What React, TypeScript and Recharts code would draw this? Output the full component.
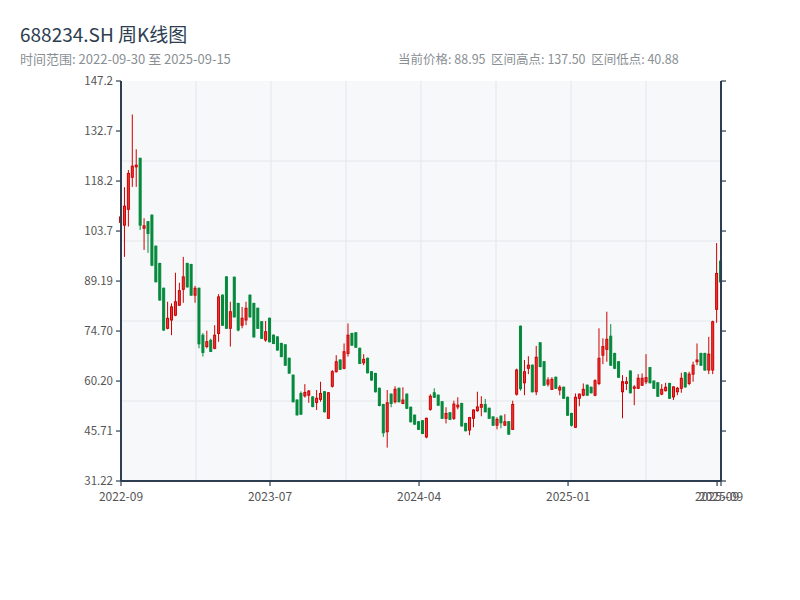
import { ComposedChart, Bar, XAxis, YAxis, CartesianGrid } from 'recharts'

// weekly candles (index 0 = week of 2022-09-30)
const OPEN = [
  106.2, 105.4, 110.0, 119.3, 122.3, 124.8, 104.5, 106.4, 108.3, 99.3,
  94.3, 87.1, 75.5, 77.9, 79.3, 82.2, 86.8, 94.3, 94.0, 85.1,
  87.1, 73.5, 70.2, 72.0, 69.7, 74.0, 85.1, 90.4, 75.5, 90.3,
  82.7, 76.4, 77.9, 85.1, 82.7, 81.3, 77.4, 72.1, 78.4, 73.5,
  73.0, 71.1, 70.7, 66.8, 61.9, 54.7, 56.6, 55.9, 56.1, 55.6,
  54.0, 54.9, 57.1, 49.4, 58.7, 62.9, 66.3, 63.9, 68.2, 74.0,
  74.2, 69.7, 65.5, 66.8, 62.9, 62.4, 58.1, 53.4, 45.5, 56.4,
  54.2, 58.1, 53.7, 56.4, 52.6, 50.3, 48.4, 48.7, 44.0, 52.0,
  56.8, 56.1, 54.2, 49.4, 51.0, 49.4, 52.7, 53.7, 47.9, 46.0,
  49.4, 51.6, 52.6, 53.4, 52.3, 49.8, 47.4, 50.0, 47.4, 48.4,
  46.2, 56.4, 76.1, 59.7, 63.9, 64.8, 57.1, 71.3, 65.8, 59.3,
  57.8, 61.3, 57.6, 58.4, 55.5, 50.8, 46.8, 55.2, 56.1, 59.0,
  58.4, 56.1, 59.5, 67.7, 69.4, 73.2, 68.2, 65.8, 57.1, 59.5,
  63.1, 58.1, 58.1, 59.0, 60.0, 64.1, 60.2, 59.7, 56.4, 57.4,
  59.5, 55.6, 57.1, 58.1, 62.6, 59.5, 62.2, 65.8, 68.2, 68.2,
  63.4, 63.4, 81.0, 95.0,
]
const HIGH = [
  108.3, 116.4, 121.4, 137.5, 127.4, 124.9, 107.4, 106.5, 108.5, 99.5,
  94.5, 87.3, 83.2, 82.7, 91.6, 88.7, 96.2, 94.5, 94.2, 87.8,
  87.3, 74.1, 74.8, 72.5, 76.4, 85.4, 85.3, 90.6, 83.2, 90.5,
  82.9, 81.7, 83.2, 85.3, 82.9, 81.5, 77.6, 77.6, 78.6, 73.7,
  73.2, 71.3, 70.9, 67.0, 62.1, 54.9, 57.2, 59.3, 57.6, 55.8,
  57.6, 60.0, 57.3, 57.0, 63.4, 67.7, 66.5, 71.1, 76.9, 74.2,
  74.4, 69.9, 68.0, 67.0, 63.1, 62.6, 58.3, 53.6, 57.6, 56.6,
  58.7, 58.3, 58.4, 56.6, 52.8, 50.5, 48.6, 48.9, 49.6, 56.4,
  58.1, 56.3, 54.4, 52.6, 51.2, 54.5, 55.5, 53.9, 48.1, 49.8,
  52.0, 57.1, 55.8, 55.0, 52.5, 50.0, 49.7, 50.3, 50.6, 48.6,
  54.5, 63.8, 76.3, 66.3, 67.4, 65.0, 70.4, 71.5, 66.0, 61.3,
  61.3, 61.5, 59.0, 58.6, 55.7, 51.0, 56.6, 56.6, 59.5, 59.2,
  58.6, 60.7, 75.5, 72.6, 80.3, 76.7, 68.4, 66.0, 61.9, 61.4,
  63.3, 59.0, 62.2, 62.4, 68.0, 64.3, 60.4, 59.9, 59.3, 59.7,
  59.7, 58.7, 58.5, 62.6, 62.8, 62.9, 65.8, 71.1, 68.4, 68.4,
  73.0, 77.7, 100.2, 95.3,
]
const LOW = [
  105.8, 96.2, 105.0, 116.5, 116.5, 104.0, 98.2, 97.4, 93.5, 88.8,
  83.5, 74.7, 75.2, 73.5, 79.0, 82.0, 82.9, 87.3, 85.0, 82.9,
  69.7, 67.3, 69.7, 68.6, 69.4, 71.6, 76.2, 75.3, 70.2, 78.6,
  74.6, 75.5, 76.4, 78.6, 72.8, 75.3, 72.4, 71.6, 71.4, 70.9,
  69.0, 67.1, 64.6, 62.3, 54.0, 50.2, 50.4, 55.4, 53.9, 52.6,
  51.8, 54.2, 51.1, 49.2, 58.3, 62.7, 63.4, 63.6, 67.3, 70.4,
  69.8, 65.1, 64.8, 62.4, 60.3, 56.9, 52.9, 44.0, 40.9, 52.6,
  53.7, 54.0, 53.5, 52.1, 48.2, 47.5, 46.0, 44.8, 43.6, 51.6,
  55.3, 53.0, 49.2, 47.9, 48.9, 48.9, 52.0, 47.0, 45.6, 44.5,
  46.8, 51.3, 50.0, 51.1, 49.2, 47.2, 46.2, 46.5, 47.2, 44.6,
  46.0, 56.0, 57.4, 56.1, 62.2, 56.9, 56.1, 64.2, 58.8, 58.6,
  57.6, 57.9, 56.1, 55.0, 50.1, 47.0, 46.6, 52.9, 55.8, 55.9,
  56.6, 55.8, 59.0, 65.1, 65.8, 64.6, 63.7, 61.1, 49.4, 57.6,
  56.6, 53.2, 57.9, 58.8, 59.3, 59.5, 57.9, 55.6, 56.1, 57.2,
  55.0, 54.7, 56.1, 56.8, 58.3, 59.0, 60.0, 64.8, 64.6, 63.2,
  62.2, 62.2, 77.1, 87.1,
]
const CLOSE = [
  107.8, 110.9, 120.4, 122.5, 122.8, 105.4, 105.2, 103.0, 93.8, 89.0,
  83.7, 75.0, 78.4, 81.7, 83.2, 86.4, 90.4, 87.5, 85.1, 87.1,
  71.0, 68.5, 71.6, 68.8, 73.5, 84.6, 76.4, 75.5, 80.3, 78.8,
  75.0, 78.4, 81.3, 78.8, 73.0, 75.5, 72.6, 74.5, 71.6, 71.1,
  69.2, 67.3, 64.8, 62.5, 54.2, 50.4, 50.6, 56.9, 57.3, 52.8,
  55.2, 56.6, 51.3, 56.8, 62.9, 65.8, 63.6, 68.7, 73.5, 70.6,
  70.0, 65.3, 66.5, 62.6, 60.5, 57.1, 53.1, 45.2, 53.9, 53.7,
  57.8, 54.2, 54.7, 52.3, 48.4, 47.7, 46.2, 45.0, 49.4, 55.8,
  55.5, 53.2, 49.4, 50.8, 49.1, 53.5, 53.2, 47.2, 45.8, 49.6,
  51.8, 52.7, 53.4, 51.3, 49.4, 47.4, 49.1, 48.1, 48.4, 44.8,
  53.4, 63.4, 58.0, 62.9, 64.8, 57.1, 67.1, 64.4, 59.0, 60.5,
  60.7, 58.1, 58.4, 55.2, 50.3, 47.4, 55.5, 56.4, 57.8, 56.1,
  56.8, 60.3, 66.8, 70.2, 72.3, 64.8, 63.9, 61.3, 60.0, 60.0,
  56.8, 58.5, 61.0, 61.0, 61.2, 59.7, 58.1, 55.8, 57.8, 58.4,
  55.2, 58.5, 58.1, 61.0, 58.5, 62.2, 64.8, 66.3, 64.8, 63.4,
  68.0, 77.4, 91.4, 88.95,
]

const Y_TICKS = [31.22, 45.71, 60.2, 74.7, 89.19, 103.7, 118.2, 132.7, 147.2]
const X_TICKS = [0, 38, 76, 114, 152, 153]
const X_TICK_LABELS = ['2022-09', '2023-07', '2024-04', '2025-01', '2025-09', '2025-09']

const data = OPEN.map((open, i) => ({
  idx: i,
  open,
  high: HIGH[i],
  low: LOW[i],
  close: CLOSE[i],
}))

const AXIS = '#2c3e50'
const UP_EDGE = '#cc0000'
const UP_FILL = '#ec3a3a'
const DOWN = '#05893c'

const Candle = (props: any) => {
  const { x, y, width, height, payload } = props
  const { open, close, high, low } = payload
  const up = close >= open
  const top = Math.min(y, y + height)
  const h = Math.abs(height)
  const span = high - low || 1
  const toY = (v: number) => top + ((high - v) / span) * h
  const bTop = toY(Math.max(open, close))
  const bBot = toY(Math.min(open, close))
  const cx = x + width / 2
  const edge = up ? UP_EDGE : DOWN
  return (
    <g>
      <line x1={cx} x2={cx} y1={top} y2={top + h} stroke={edge} strokeWidth={1} />
      <rect
        x={x + 0.5}
        y={bTop}
        width={width - 1}
        height={Math.max(bBot - bTop, 1)}
        fill={up ? UP_FILL : DOWN}
        stroke={edge}
        strokeWidth={1}
      />
    </g>
  )
}

const font = '"Noto Sans CJK SC", "Noto Sans", sans-serif'

export default function App() {
  return (
    <div style={{ position: 'absolute', left: 0, top: 0, width: 800, height: 600, background: '#fff', fontFamily: font }}>
      <div style={{ position: 'absolute', left: 20, top: 20, fontSize: 19, color: '#2c3e50' }}>
        688234.SH 周K线图
      </div>
      <div style={{ position: 'absolute', left: 20, top: 49, fontSize: 13, color: '#8a8f94' }}>
        时间范围: 2022-09-30 至 2025-09-15
      </div>
      <div style={{ position: 'absolute', left: 398, top: 49, fontSize: 12.5, color: '#8a8f94', whiteSpace: 'pre' }}>
        当前价格: 88.95  区间高点: 137.50  区间低点: 40.88
      </div>
      <div style={{ position: 'absolute', left: 0, top: 0 }}>
        <ComposedChart
          width={800}
          height={600}
          data={data}
          margin={{ top: 81, right: 49, bottom: 89, left: 61 }}
        >
          <CartesianGrid
            yAxisId="left"
            stroke="#e4e7eb"
            fill="#f7f8fa"
            horizontalCoordinatesGenerator={({ offset }: any) =>
              [1, 2, 3, 4].map((k) => offset.top + (offset.height * k) / 5)
            }
            verticalCoordinatesGenerator={({ offset }: any) =>
              [1, 2, 3, 4, 5, 6, 7].map((k) => offset.left + (offset.width * k) / 8)
            }
          />
          <XAxis
            dataKey="idx"
            type="number"
            domain={[0, 153]}
            ticks={X_TICKS}
            interval={0}
            tickFormatter={(v: number) => X_TICK_LABELS[X_TICKS.indexOf(v)] ?? ''}
            height={30}
            tickSize={5}
            tickMargin={6}
            axisLine={{ stroke: AXIS, strokeWidth: 2 }}
            tickLine={{ stroke: AXIS, strokeWidth: 1.2 }}
            tick={{ fill: '#555', fontSize: 12, fontFamily: font }}
          />
          <YAxis
            yAxisId="left"
            domain={[31.22, 147.2]}
            ticks={Y_TICKS}
            interval={0}
            allowDataOverflow
            tickFormatter={(v: number) => v.toPrecision(4)}
            width={60}
            tickSize={5}
            tickMargin={3}
            axisLine={{ stroke: AXIS, strokeWidth: 2 }}
            tickLine={{ stroke: AXIS, strokeWidth: 1.2 }}
            tick={{ fill: '#555', fontSize: 11.5, fontFamily: font }}
          />
          <YAxis
            yAxisId="right"
            orientation="right"
            domain={[31.22, 147.2]}
            ticks={Y_TICKS}
            interval={0}
            allowDataOverflow
            tickFormatter={() => ''}
            width={30}
            tickSize={5}
            axisLine={{ stroke: AXIS, strokeWidth: 2 }}
            tickLine={{ stroke: AXIS, strokeWidth: 1.2 }}
          />
          <Bar
            yAxisId="left"
            dataKey={(d: any) => [d.low, d.high]}
            barSize={3}
            shape={Candle}
            isAnimationActive={false}
          />
        </ComposedChart>
      </div>
    </div>
  )
}
